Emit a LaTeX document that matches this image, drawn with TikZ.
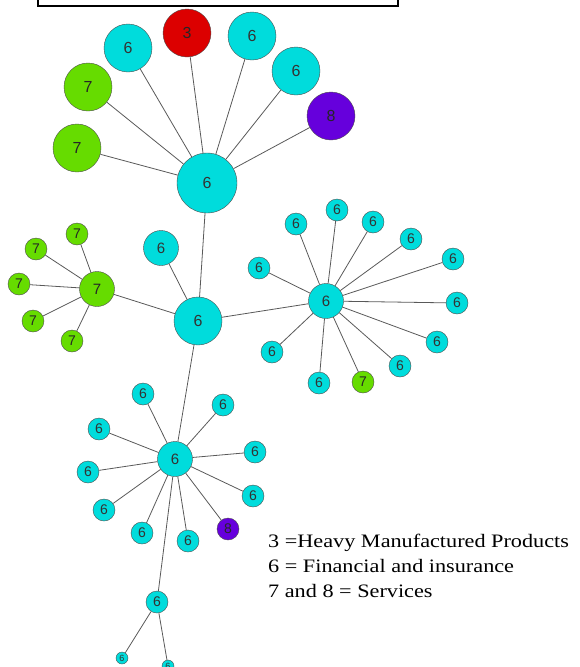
\documentclass[tikz,border=0pt]{standalone}
\usepackage{fontspec}
\setmainfont{Liberation Serif}
\setsansfont{Liberation Sans}
\newfontfamily\legendfont[FakeStretch=1.17]{Liberation Serif}
\usepackage{tikz}
\definecolor{fincyan}{RGB}{0,220,220}
\definecolor{heavyred}{RGB}{220,0,0}
\definecolor{servgreen}{RGB}{102,220,0}
\definecolor{servpurple}{RGB}{102,0,220}
\tikzstyle{fin} = [circle, draw=black!70, fill=fincyan, text=black!80, inner sep=0pt]
\tikzstyle{heavy} = [circle, draw=black!70, fill=heavyred, text=black!85, inner sep=0pt]
\tikzstyle{serv} = [circle, draw=black!70, fill=servgreen, text=black!85, inner sep=0pt]
\tikzstyle{servb} = [circle, draw=black!70, fill=servpurple, text=black!85, inner sep=0pt]
\tikzstyle{bignode} = [minimum size=60pt, font=\sffamily\fontsize{16}{16}\selectfont]
\tikzstyle{midnode} = [minimum size=48pt, font=\sffamily\fontsize{16}{16}\selectfont]
\tikzstyle{hubnode} = [minimum size=35pt, font=\sffamily\fontsize{15}{15}\selectfont]
\tikzstyle{leafnode} = [minimum size=22pt, font=\sffamily\fontsize{14}{14}\selectfont]
\tikzstyle{tinynode} = [minimum size=12pt, font=\sffamily\fontsize{9}{9}\selectfont]
\tikzstyle{link} = [draw=black!65, line width=0.8pt]
\tikzstyle{legend} = [anchor=base west, inner sep=0pt, font=\legendfont\fontsize{19}{19}\selectfont]

\begin{document}
\begin{tikzpicture}[x=1pt, y=-1pt]
    \useasboundingbox (0,0) rectangle (579,667);
    \draw [line width=2pt] (38,-20) rectangle (398,6);
    % top cluster
    \node (hub1) [fin, bignode] at (207,183) {6};
    \node (t1) [serv, midnode] at (77,148) {7};
    \node (t2) [serv, midnode] at (88,87) {7};
    \node (t3) [fin, midnode] at (128,48) {6};
    \node (t4) [heavy, midnode] at (187,33) {3};
    \node (t5) [fin, midnode] at (252,36) {6};
    \node (t6) [fin, midnode] at (296,71) {6};
    \node (t7) [servb, midnode] at (331,116) {8};
    % middle
    \node (hub2) [fin, midnode] at (198,321) {6};
    \node (c1) [fin, hubnode] at (161,248) {6};
    % green cluster
    \node (g0) [serv, hubnode] at (97,289) {7};
    \node (g1) [serv, leafnode] at (77,234) {7};
    \node (g2) [serv, leafnode] at (36,249) {7};
    \node (g3) [serv, leafnode] at (19,284) {7};
    \node (g4) [serv, leafnode] at (33,321) {7};
    \node (g5) [serv, leafnode] at (72,341) {7};
    % right cluster
    \node (hub3) [fin, hubnode] at (326,301) {6};
    \node (r1) [fin, leafnode] at (259,268) {6};
    \node (r2) [fin, leafnode] at (296,224) {6};
    \node (r3) [fin, leafnode] at (337,210) {6};
    \node (r4) [fin, leafnode] at (373,222) {6};
    \node (r5) [fin, leafnode] at (411,239) {6};
    \node (r6) [fin, leafnode] at (453,259) {6};
    \node (r7) [fin, leafnode] at (457,303) {6};
    \node (r8) [fin, leafnode] at (437,342) {6};
    \node (r9) [fin, leafnode] at (400,366) {6};
    \node (r10) [serv, leafnode] at (363,382) {7};
    \node (r11) [fin, leafnode] at (319,383) {6};
    \node (r12) [fin, leafnode] at (272,352) {6};
    % lower cluster
    \node (hub4) [fin, hubnode] at (175,459) {6};
    \node (l1) [fin, leafnode] at (143,394) {6};
    \node (l2) [fin, leafnode] at (223,405) {6};
    \node (l3) [fin, leafnode] at (99,429) {6};
    \node (l4) [fin, leafnode] at (255,452) {6};
    \node (l5) [fin, leafnode] at (88,472) {6};
    \node (l6) [fin, leafnode] at (253,496) {6};
    \node (l7) [fin, leafnode] at (104,510) {6};
    \node (l8) [fin, leafnode] at (142,533) {6};
    \node (l9) [fin, leafnode] at (188,541) {6};
    \node (l10) [servb, leafnode] at (228,529) {8};
    % bottom
    \node (b1) [fin, leafnode] at (157,602) {6};
    \node (b2) [fin, tinynode] at (122,658) {6};
    \node (b3) [fin, tinynode] at (168,666) {6};
    % legend
    \node (leg1) [legend] at (268,547) {3 =Heavy Manufactured Products};
    \node (leg2) [legend] at (268,572) {6 = Financial and insurance};
    \node (leg3) [legend] at (268,597) {7 and 8 = Services};
    % links
    \draw [link] (hub1) -- (t1);
    \draw [link] (hub1) -- (t2);
    \draw [link] (hub1) -- (t3);
    \draw [link] (hub1) -- (t4);
    \draw [link] (hub1) -- (t5);
    \draw [link] (hub1) -- (t6);
    \draw [link] (hub1) -- (t7);
    \draw [link] (hub1) -- (hub2);
    \draw [link] (hub2) -- (c1);
    \draw [link] (hub2) -- (g0);
    \draw [link] (hub2) -- (hub3);
    \draw [link] (hub2) -- (hub4);
    \draw [link] (g0) -- (g1);
    \draw [link] (g0) -- (g2);
    \draw [link] (g0) -- (g3);
    \draw [link] (g0) -- (g4);
    \draw [link] (g0) -- (g5);
    \draw [link] (hub3) -- (r1);
    \draw [link] (hub3) -- (r2);
    \draw [link] (hub3) -- (r3);
    \draw [link] (hub3) -- (r4);
    \draw [link] (hub3) -- (r5);
    \draw [link] (hub3) -- (r6);
    \draw [link] (hub3) -- (r7);
    \draw [link] (hub3) -- (r8);
    \draw [link] (hub3) -- (r9);
    \draw [link] (hub3) -- (r10);
    \draw [link] (hub3) -- (r11);
    \draw [link] (hub3) -- (r12);
    \draw [link] (hub4) -- (l1);
    \draw [link] (hub4) -- (l2);
    \draw [link] (hub4) -- (l3);
    \draw [link] (hub4) -- (l4);
    \draw [link] (hub4) -- (l5);
    \draw [link] (hub4) -- (l6);
    \draw [link] (hub4) -- (l7);
    \draw [link] (hub4) -- (l8);
    \draw [link] (hub4) -- (l9);
    \draw [link] (hub4) -- (l10);
    \draw [link] (hub4) -- (b1);
    \draw [link] (b1) -- (b2);
    \draw [link] (b1) -- (b3);
\end{tikzpicture}
\end{document}
